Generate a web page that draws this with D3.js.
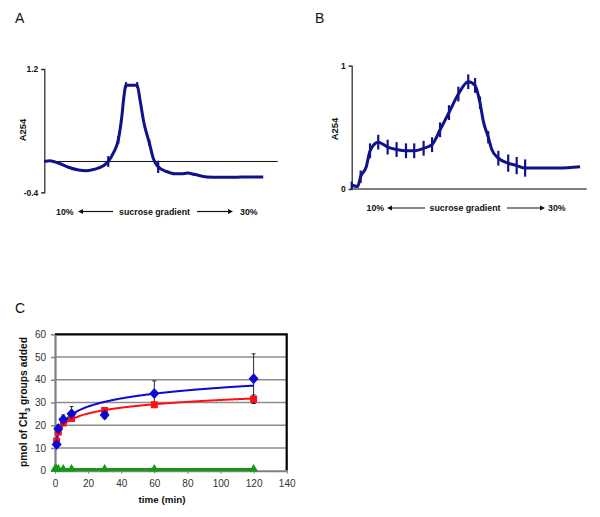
<!DOCTYPE html>
<html><head><meta charset="utf-8">
<script src="https://cdn.jsdelivr.net/npm/d3@7/dist/d3.min.js"></script>
<style>body{margin:0;background:#fff}svg{display:block;font-family:"Liberation Sans",Arial,sans-serif}</style>
</head><body>
<svg id="c" width="600" height="517"></svg>
<script>
// ---------- DATA ----------
// Panel A: fraction position (0-100 along gradient), A254
const aFrac = [0,2.4,6.0,10.3,14.6,18.2,21.7,25.3,27.4,29.6,31.7,33.2,34.1,35.0,37.4,39.8,41.0,42.7,45.0,46.7,48.8,52.4,56.0,58.9,61.3,64.6,69.6,75.3,81.0,88.1,93.8];
const aVal  = [0.0,0.01,-0.02,-0.075,-0.11,-0.12,-0.10,-0.055,0.0,0.11,0.28,0.58,0.84,0.99,0.99,0.99,0.80,0.50,0.24,0.04,-0.07,-0.13,-0.16,-0.16,-0.15,-0.17,-0.20,-0.205,-0.205,-0.20,-0.20];
const aErr  = [0,0,0,0,0,0,0,0,0.07,0,0.05,0,0,0.04,0,0.04,0,0,0.04,0,0.08,0,0,0,0,0,0,0,0,0,0];
const aTicks = [1.2,-0.4];
// Panel B
const bFrac = [0,2.5,3.8,6.2,7.8,11.3,15.3,19.1,23.1,26.6,30.6,34.2,37.6,41.4,45.4,49.6,52.5,54.6,56.0,58.1,59.6,62.4,66.6,70.2,73.8,80.9,88.0,97.2];
const bVal  = [0.03,0.02,0.10,0.18,0.31,0.38,0.34,0.32,0.31,0.31,0.33,0.36,0.48,0.62,0.77,0.87,0.84,0.70,0.55,0.42,0.32,0.25,0.21,0.19,0.17,0.17,0.17,0.18];
const bErr  = [0.03,0,0.05,0,0.06,0.06,0.06,0.06,0.06,0.06,0.06,0.06,0.06,0.06,0.06,0.06,0.06,0.05,0,0.05,0,0.06,0.07,0.07,0.07,0,0,0];
const bTicks = [1,0];
// Panel C
const timeMin   = [1,2,5,10,30,60,120];
const blueVals  = [11.5,18.5,22.5,25,24.5,34,40.5];
const blueErr   = [1,1.5,2,3.2,1.5,5.5,10.9];
const redVals   = [13,17,21,23,26.5,29,31.5];
const redErr    = [1,1,1,1,1,1,1.8];
const greenTime = [0,1,2,5,10,30,60,120];
const greenVals = [0.5,0.5,0.5,0.5,0.5,0.5,0.5,0.5];
const cYTicks = [0,10,20,30,40,50,60];
const cXTicks = [0,20,40,60,80,100,120,140];

const svg = d3.select("#c");
const navy = "#10128a";

// ---------- Panel labels ----------
[["A",15,23],["B",315,23],["C",15,313]].forEach(([t,x,y])=>
  svg.append("text").attr("x",x).attr("y",y).attr("font-size",14).attr("fill","#111").text(t));

function gradientPanel(g, frac, vals, errs, yDom, yTop, yBot, xL, xR, ticks, zeroLine, labelY, lab){
  const x = d3.scaleLinear().domain([0,100]).range([xL,xR]);
  const y = d3.scaleLinear().domain(yDom).range([yBot,yTop]);
  const ax = g.append("g").attr("transform",`translate(${xL},0)`)
    .call(d3.axisLeft(y).tickValues(ticks).tickSize(3).tickFormat(d=>d===0?"0":String(d)));
  ax.select(".domain").attr("stroke","#333").attr("stroke-width",1.3);
  ax.selectAll(".tick line").attr("stroke","#333");
  ax.selectAll("text").attr("font-size",8.5).attr("font-weight","bold").attr("fill","#111").attr("font-family","Liberation Sans, Arial");
  if(zeroLine){
    g.append("line").attr("x1",xL).attr("x2",xR).attr("y1",y(0)).attr("y2",y(0)).attr("stroke","#111").attr("stroke-width",1);
  } else {
    g.append("line").attr("x1",xL).attr("x2",xR).attr("y1",y(0)).attr("y2",y(0)).attr("stroke","#555").attr("stroke-width",1.6);
  }
  const pts = frac.map((f,i)=>({f, v:vals[i], e:errs[i]}));
  g.append("path").datum(pts).attr("fill","none").attr("stroke",navy).attr("stroke-width",3)
    .attr("stroke-linejoin","round")
    .attr("d", d3.line().x(d=>x(d.f)).y(d=>y(d.v)).curve(d3.curveMonotoneX));
  g.selectAll(null).data(pts.filter(d=>d.e>0)).join("line")
    .attr("x1",d=>x(d.f)).attr("x2",d=>x(d.f))
    .attr("y1",d=>y(d.v-d.e)).attr("y2",d=>y(d.v+d.e))
    .attr("stroke",navy).attr("stroke-width",2.2);
  g.append("text").attr("transform",`translate(${lab.yx},${lab.yy}) rotate(-90)`)
    .attr("text-anchor","middle").attr("font-size",9.5).attr("font-weight","bold").attr("fill","#111").text("A254");
  const lg = g.append("g").attr("font-size",8.8).attr("font-weight","bold").attr("fill","#111");
  const L = lab.g;
  lg.append("text").attr("x",L[0]).attr("y",labelY+3).text("10%");
  lg.append("line").attr("x1",L[1]+4).attr("x2",L[2]).attr("y1",labelY).attr("y2",labelY).attr("stroke","#111").attr("stroke-width",1.2);
  lg.append("path").attr("d",`M${L[1]},${labelY}L${L[1]+5},${labelY-2.5}L${L[1]+5},${labelY+2.5}Z`).attr("fill","#111");
  lg.append("text").attr("x",(L[3]+L[4])/2).attr("y",labelY+3).attr("text-anchor","middle").text("sucrose gradient");
  lg.append("line").attr("x1",L[5]).attr("x2",L[6]-4).attr("y1",labelY).attr("y2",labelY).attr("stroke","#111").attr("stroke-width",1.2);
  lg.append("path").attr("d",`M${L[6]},${labelY}L${L[6]-5},${labelY-2.5}L${L[6]-5},${labelY+2.5}Z`).attr("fill","#111");
  lg.append("text").attr("x",L[7]).attr("y",labelY+3).text("30%");
}

gradientPanel(svg.append("g"), aFrac, aVal, aErr, [-0.4,1.2], 69, 192.3, 44.3, 277.7, aTicks, true, 211.5,
  {yx:26, yy:130, g:[56,78,113,117,192,197,233,240]});
gradientPanel(svg.append("g"), bFrac, bVal, bErr, [0,1], 65.7, 189, 351.7, 586.7, bTicks, false, 208,
  {yx:338, yy:129, g:[366.5,387,425,428,502,507,545,548]});

// ---------- Panel C ----------
const cx = d3.scaleLinear().domain([0,140]).range([55,286.7]);
const cy = d3.scaleLinear().domain([0,60]).range([470.7,334.3]);
const gc = svg.append("g");
gc.selectAll(null).data(cYTicks.filter(v=>v>0&&v<60)).join("line")
  .attr("x1",cx(0)).attr("x2",cx(140)).attr("y1",d=>cy(d)).attr("y2",d=>cy(d))
  .attr("stroke","#8c8c8c").attr("stroke-width",1.5);
gc.append("path").attr("d",`M${cx(0)},${cy(60)}H${cx(140)}V${cy(0)}`).attr("fill","none").attr("stroke","#000").attr("stroke-width",2.2);
const yAx = gc.append("g").attr("transform",`translate(${cx(0)},0)`)
  .call(d3.axisLeft(cy).tickValues(cYTicks).tickSize(4).tickSizeOuter(0));
yAx.select(".domain").attr("stroke","#808080").attr("stroke-width",2.2);
yAx.selectAll(".tick line").attr("stroke","#808080").attr("stroke-width",1.5);
yAx.selectAll("text").attr("font-size",10).attr("fill","#333").attr("font-family","Liberation Sans, Arial").attr("dx",-2);
const xAx = gc.append("g").attr("transform",`translate(0,${cy(0)})`)
  .call(d3.axisBottom(cx).tickValues(cXTicks).tickSize(3).tickSizeOuter(0));
xAx.select(".domain").attr("stroke","#808080").attr("stroke-width",2);
xAx.selectAll(".tick line").attr("stroke","#808080");
xAx.selectAll("text").attr("font-size",10).attr("fill","#333").attr("font-family","Liberation Sans, Arial").attr("dy","1.0em");

function logFit(xs, ys){
  const lx = xs.map(Math.log);
  const mx=d3.mean(lx), my=d3.mean(ys);
  const b=d3.sum(lx.map((v,i)=>(v-mx)*(ys[i]-my)))/d3.sum(lx.map(v=>(v-mx)**2));
  const a=my-b*mx;
  return t=>a+b*Math.log(t);
}
const tSamples = d3.range(1,120.01,0.5);
const green = "#129a12", blue="#0a0ad0", red="#ff1010";
gc.append("path").datum(greenTime.map((t,i)=>[t,greenVals[i]])).attr("fill","none").attr("stroke",green).attr("stroke-width",3)
  .attr("d",d3.line().x(d=>cx(d[0])).y(d=>cy(d[1])));
function errBars(vals, errs){
  timeMin.forEach((t,i)=>{
    const X=cx(t), y1=cy(vals[i]-errs[i]), y2=cy(vals[i]+errs[i]);
    gc.append("line").attr("x1",X).attr("x2",X).attr("y1",y1).attr("y2",y2).attr("stroke","#111").attr("stroke-width",0.9);
    [y1,y2].forEach(yy=>gc.append("line").attr("x1",X-2).attr("x2",X+2).attr("y1",yy).attr("y2",yy).attr("stroke","#111").attr("stroke-width",0.9));
  });
}
errBars(blueVals, blueErr);
errBars(redVals, redErr);
const fb = logFit(timeMin, blueVals), fr = logFit(timeMin, redVals);
gc.append("path").datum(tSamples).attr("fill","none").attr("stroke",red).attr("stroke-width",2)
  .attr("d",d3.line().x(t=>cx(t)).y(t=>cy(fr(t))));
gc.append("path").datum(tSamples).attr("fill","none").attr("stroke",blue).attr("stroke-width",2)
  .attr("d",d3.line().x(t=>cx(t)).y(t=>cy(fb(t))));
gc.selectAll(null).data(timeMin.map((t,i)=>[t,redVals[i]])).join("rect")
  .attr("x",d=>cx(d[0])-3.5).attr("y",d=>cy(d[1])-3.5).attr("width",7).attr("height",7).attr("fill",red);
gc.selectAll(null).data(timeMin.map((t,i)=>[t,blueVals[i]])).join("path")
  .attr("d",d=>`M${cx(d[0])},${cy(d[1])-5.5}l5,5.5l-5,5.5l-5,-5.5Z`).attr("fill",blue);
gc.selectAll(null).data(greenTime.map((t,i)=>[t,greenVals[i]])).join("path")
  .attr("d",d=>`M${cx(d[0])},${cy(d[1])-5.5}l4.5,7.5h-9Z`).attr("fill",green);

const yt = gc.append("text").attr("transform",`translate(27,402) rotate(-90)`).attr("text-anchor","middle")
  .attr("font-size",10.3).attr("font-weight","bold").attr("fill","#111");
yt.append("tspan").text("pmol of CH");
yt.append("tspan").attr("font-size",7.5).attr("dy",2.5).text("3");
yt.append("tspan").attr("dy",-2.5).text(" groups added");
gc.append("text").attr("x",162).attr("y",503).attr("text-anchor","middle").attr("font-size",9.8).attr("font-weight","bold").attr("fill","#111").text("time (min)");
</script>
</body></html>
